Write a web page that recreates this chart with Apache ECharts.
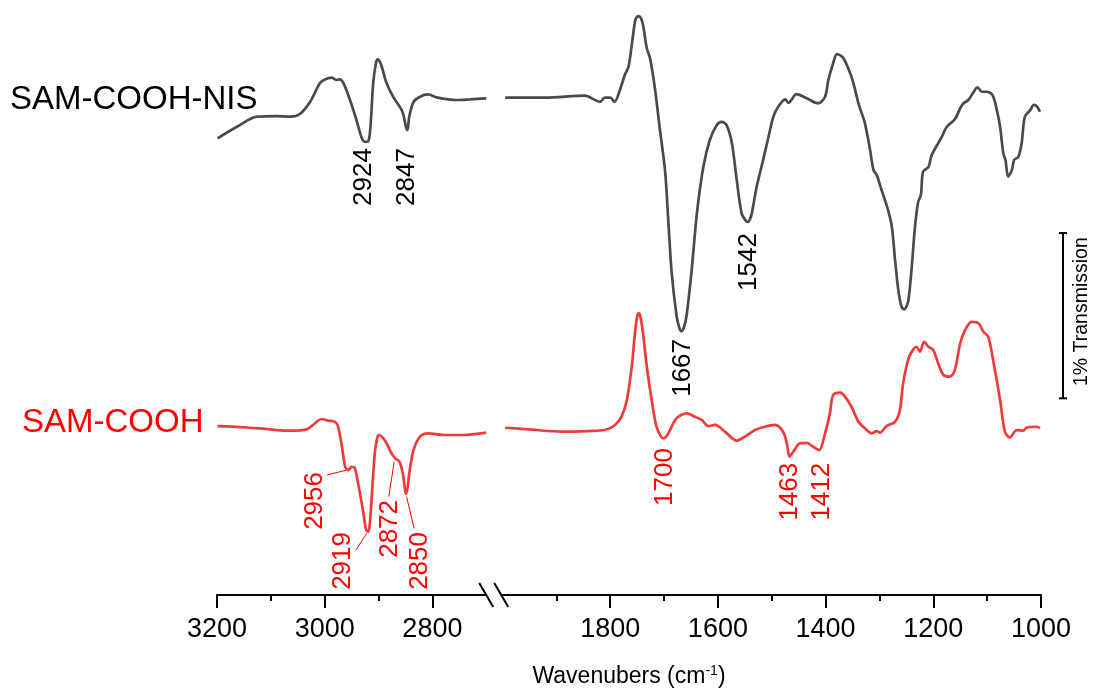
<!DOCTYPE html>
<html>
<head>
<meta charset="utf-8">
<title>FTIR SAM-COOH</title>
<script src="https://cdn.jsdelivr.net/npm/echarts@6.0.0/dist/echarts.min.js"></script>
<style>
html,body{margin:0;padding:0;background:#fff;}
#main{width:1098px;height:690px;}
</style>
</head>
<body>
<div id="main"></div>
<script>
// spectra: [wavenumber, transmission offset in %]
// SAM-COOH-NIS, high wavenumber part (3200-2700)
var nisHigh = [[3199,2.763],[3163,2.833],[3126,2.894],[3089,2.898],[3064,2.894],[3046,2.910],[3027,2.984],[3009,3.096],[2999,3.120],[2987,3.130],[2978,3.116],[2972,3.120],[2965,3.096],[2953,2.995],[2941,2.874],[2931,2.763],[2925,2.742],[2919,2.746],[2915,2.833],[2910,3.096],[2905,3.215],[2902,3.241],[2898,3.230],[2894,3.196],[2885,3.096],[2873,3.015],[2857,2.934],[2853,2.894],[2849,2.830],[2847,2.813],[2845,2.835],[2843,2.894],[2835,2.984],[2823,3.015],[2808,3.029],[2792,3.011],[2755,2.995],[2730,2.999],[2700,3.005]];
// SAM-COOH-NIS, low wavenumber part (2000-1000)
var nisLow = [[1995,3.009],[1921,3.009],[1847,3.021],[1828,2.995],[1819,2.984],[1810,3.009],[1800,3.009],[1792,2.984],[1782,3.055],[1773,3.146],[1766,3.196],[1760,3.328],[1754,3.468],[1751,3.495],[1747,3.503],[1743,3.490],[1739,3.449],[1732,3.308],[1726,3.247],[1717,3.066],[1708,2.824],[1698,2.561],[1692,2.258],[1686,1.956],[1677,1.694],[1672,1.620],[1668,1.597],[1663,1.620],[1658,1.694],[1649,1.956],[1639,2.309],[1627,2.591],[1615,2.753],[1602,2.844],[1593,2.863],[1584,2.844],[1574,2.733],[1565,2.511],[1556,2.309],[1549,2.268],[1545,2.258],[1541,2.270],[1537,2.309],[1528,2.470],[1516,2.632],[1506,2.773],[1497,2.894],[1488,2.954],[1475,2.999],[1469,2.978],[1454,3.031],[1435,3.005],[1414,2.975],[1401,3.015],[1395,3.116],[1386,3.217],[1379,3.273],[1368,3.253],[1358,3.187],[1349,3.105],[1339,2.975],[1327,2.854],[1318,2.704],[1311,2.571],[1305,2.541],[1296,2.450],[1284,2.329],[1277,2.228],[1271,2.027],[1265,1.845],[1259,1.744],[1254,1.728],[1250,1.745],[1246,1.785],[1240,1.986],[1234,2.228],[1228,2.379],[1223,2.420],[1219,2.561],[1209,2.591],[1203,2.662],[1191,2.733],[1184,2.773],[1175,2.833],[1160,2.878],[1150,2.945],[1144,2.975],[1135,2.995],[1126,3.039],[1118,3.072],[1110,3.045],[1101,3.045],[1090,3.025],[1082,2.934],[1076,2.833],[1070,2.672],[1066,2.632],[1061,2.531],[1054,2.571],[1050,2.632],[1042,2.652],[1036,2.733],[1030,2.894],[1020,2.934],[1013,2.965],[1007,2.954],[1002,2.924]];
// SAM-COOH, high wavenumber part
var coohHigh = [[3199,1.022],[3151,1.015],[3102,1.002],[3064,0.994],[3033,1.002],[3018,1.039],[3006,1.065],[2993,1.055],[2981,1.048],[2975,1.018],[2968,0.897],[2962,0.776],[2956,0.756],[2950,0.776],[2944,0.767],[2938,0.676],[2929,0.514],[2923,0.393],[2919,0.383],[2916,0.440],[2913,0.575],[2907,0.857],[2903,0.940],[2900,0.968],[2894,0.958],[2885,0.918],[2876,0.857],[2869,0.827],[2861,0.806],[2855,0.736],[2851,0.640],[2849,0.611],[2846,0.650],[2843,0.736],[2835,0.877],[2823,0.958],[2808,0.978],[2780,0.968],[2743,0.968],[2700,0.982]];
// SAM-COOH, low wavenumber part
var coohLow = [[1995,1.012],[1952,1.002],[1890,0.988],[1841,0.992],[1810,0.998],[1791,1.029],[1779,1.079],[1769,1.180],[1760,1.381],[1754,1.583],[1750,1.685],[1747,1.704],[1744,1.685],[1739,1.583],[1732,1.381],[1723,1.180],[1714,1.018],[1705,0.955],[1701,0.948],[1697,0.955],[1692,0.978],[1677,1.069],[1658,1.099],[1643,1.079],[1630,1.059],[1618,1.022],[1605,1.029],[1587,0.988],[1565,0.934],[1550,0.958],[1531,0.998],[1513,1.018],[1494,1.029],[1479,0.988],[1472,0.918],[1467,0.837],[1460,0.867],[1448,0.918],[1435,0.921],[1423,0.897],[1412,0.877],[1401,0.978],[1392,1.099],[1386,1.210],[1373,1.224],[1364,1.200],[1352,1.139],[1339,1.048],[1327,1.009],[1314,0.978],[1305,0.992],[1299,0.982],[1287,1.022],[1271,1.048],[1262,1.119],[1256,1.281],[1246,1.432],[1237,1.486],[1231,1.502],[1225,1.472],[1217,1.532],[1209,1.502],[1200,1.482],[1191,1.402],[1181,1.331],[1169,1.321],[1160,1.361],[1150,1.523],[1141,1.603],[1129,1.653],[1116,1.644],[1107,1.593],[1098,1.563],[1089,1.422],[1076,1.180],[1067,0.988],[1058,0.954],[1045,0.998],[1033,0.994],[1027,1.012],[1008,1.018],[1002,1.009]];

// tick labels of the broken axis
var highTicks = [3200, 3000, 2800];
var highMinor = [3100, 2900];
var lowTicks = [1800, 1600, 1400, 1200, 1000];
var lowMinor = [1900, 1700, 1500, 1300, 1100];

// peak labels: text, wavenumber where the label stands, top of label (%)
var nisPeaks = ['2924', '2847', '1667', '1542'];
var nisPeakWn = [2928, 2847, 1666, 1542];
var nisPeakTop = [2.704, 2.704, 1.549, 2.190];
var coohPeaks = ['2956', '2919', '2872', '2850', '1700', '1463', '1412'];
var coohPeakWn = [3018, 2966, 2879, 2823, 1699, 1466, 1407];
var coohPeakTop = [0.744, 0.381, 0.575, 0.381, 0.889, 0.800, 0.800];
// leader lines from peak to label
var coohLeaders = [[[2959,0.756],[2996,0.726]], [[2922,0.373],[2942,0.272]], [[2871,0.806],[2881,0.595]], [[2848,0.595],[2834,0.403]]];
// scale bar, 1 % transmission
var barLow = 1.19;
var barHigh = 2.19;

var FONT = '"Liberation Sans", Arial, sans-serif';
var NIS_COLOR = '#4a4a4a';
var COOH_COLOR = '#ef3b3b';
var LABEL_RED = '#ff0000';

var chart = echarts.init(document.getElementById('main'));

//主刻度 + 标签
function xMain(grid, min, max, ticks){
    return {
        type: 'value', gridIndex: grid, position: 'bottom', min: min, max: max, interval: 100, inverse: true,
        axisLine: {show: true, onZero: false, lineStyle: {color: '#000', width: 2}},
        axisTick: {show: true, length: 13, customValues: ticks, lineStyle: {color: '#000', width: 2}},
        axisLabel: {show: true, customValues: ticks, margin: 21, color: '#000', fontSize: 27, fontFamily: FONT,
            formatter: function(v){ return String(v); }},
        splitLine: {show: false}
    };
}
//次刻度
function xMinor(grid, min, max, ticks){
    return {
        type: 'value', gridIndex: grid, position: 'bottom', min: min, max: max, interval: 100, inverse: true,
        axisLine: {show: false, onZero: false},
        axisTick: {show: true, length: 6, customValues: ticks, lineStyle: {color: '#000', width: 2}},
        axisLabel: {show: false},
        splitLine: {show: false}
    };
}
function yHidden(grid){
    return {type: 'value', gridIndex: grid, min: 0, max: 3.6, show: false, splitLine: {show: false}};
}
function spectrum(data, xIdx, yIdx, color){
    return {
        type: 'line', data: data, xAxisIndex: xIdx, yAxisIndex: yIdx,
        symbol: 'none', smooth: 0.3, silent: true,
        lineStyle: {color: color, width: 2.7}
    };
}

var option = {
    animation: false,
    backgroundColor: '#fff',
    grid: [
        {left: 217, width: 269.25, top: 0, height: 595},
        {left: 502.5, width: 538.5, top: 0, height: 595}
    ],
    xAxis: [
        xMain(0, 2700, 3200, highTicks),
        xMinor(0, 2700, 3200, highMinor),
        xMain(1, 1000, 2000, lowTicks),
        xMinor(1, 1000, 2000, lowMinor)
    ],
    yAxis: [yHidden(0), yHidden(1)],
    series: [
        spectrum(nisHigh, 0, 0, NIS_COLOR),
        spectrum(nisLow, 2, 1, NIS_COLOR),
        spectrum(coohHigh, 0, 0, COOH_COLOR),
        spectrum(coohLow, 2, 1, COOH_COLOR)
    ]
};
chart.setOption(option);

// 坐标转换
function px(wn, v){
    return chart.convertToPixel({seriesIndex: wn > 2350 ? 0 : 1}, [wn, v]);
}
function vText(str, p, color){
    return {
        type: 'text', x: p[0], y: p[1], rotation: Math.PI / 2, silent: true,
        style: {text: str, fill: color, font: '26px ' + FONT,
            textAlign: 'right', textVerticalAlign: 'middle', align: 'right', verticalAlign: 'middle'}
    };
}
function seg(a, b, color, w){
    return {type: 'line', silent: true, shape: {x1: a[0], y1: a[1], x2: b[0], y2: b[1]},
        style: {stroke: color, lineWidth: w}};
}

var g = [];
var i;
for (i = 0; i < nisPeaks.length; i++) {
    g.push(vText(nisPeaks[i], px(nisPeakWn[i], nisPeakTop[i]), '#000'));
}
for (i = 0; i < coohPeaks.length; i++) {
    g.push(vText(coohPeaks[i], px(coohPeakWn[i], coohPeakTop[i]), LABEL_RED));
}
for (i = 0; i < coohLeaders.length; i++) {
    g.push(seg(px(coohLeaders[i][0][0], coohLeaders[i][0][1]), px(coohLeaders[i][1][0], coohLeaders[i][1][1]), LABEL_RED, 1));
}

// 断轴标记
var b = px(2700, 0);
g.push(seg([b[0] - 7, b[1] - 12], [b[0] + 7, b[1] + 12], '#000', 2));
g.push(seg([b[0] + 8, b[1] - 12], [b[0] + 22, b[1] + 12], '#000', 2));

// 标尺 1%
var top1 = px(1000, barHigh), bot1 = px(1000, barLow);
var bx = top1[0] + 22;
g.push(seg([bx, top1[1]], [bx, bot1[1]], '#000', 2));
g.push(seg([bx - 4, top1[1]], [bx + 4, top1[1]], '#000', 2));
g.push(seg([bx - 4, bot1[1]], [bx + 4, bot1[1]], '#000', 2));
g.push({
    type: 'text', x: bx + 19, y: (top1[1] + bot1[1]) / 2 - 4, rotation: Math.PI / 2, silent: true,
    style: {text: '1% Transmission', fill: '#000', font: '19.5px ' + FONT,
        textAlign: 'center', textVerticalAlign: 'middle', align: 'center', verticalAlign: 'middle'}
});

// 图例文字
g.push({type: 'text', x: 10, y: 100, silent: true,
    style: {text: 'SAM-COOH-NIS', fill: '#000', font: '33px ' + FONT, textVerticalAlign: 'middle', verticalAlign: 'middle'}});
g.push({type: 'text', x: 22, y: 423, silent: true,
    style: {text: 'SAM-COOH', fill: LABEL_RED, font: '33px ' + FONT, textVerticalAlign: 'middle', verticalAlign: 'middle'}});

// x轴标题
g.push({type: 'text', x: (px(3200, 0)[0] + px(1000, 0)[0]) / 2, y: 677, silent: true,
    style: {
        text: '{a|Wavenubers (cm}{s|-1}{a|)}',
        textAlign: 'center', textVerticalAlign: 'middle', align: 'center', verticalAlign: 'middle',
        rich: {
            a: {fontSize: 23, fontFamily: FONT, fill: '#000', lineHeight: 26},
            s: {fontSize: 14, fontFamily: FONT, fill: '#000', verticalAlign: 'top', lineHeight: 14}
        }
    }});

chart.setOption({graphic: {elements: g}});
</script>
</body>
</html>
